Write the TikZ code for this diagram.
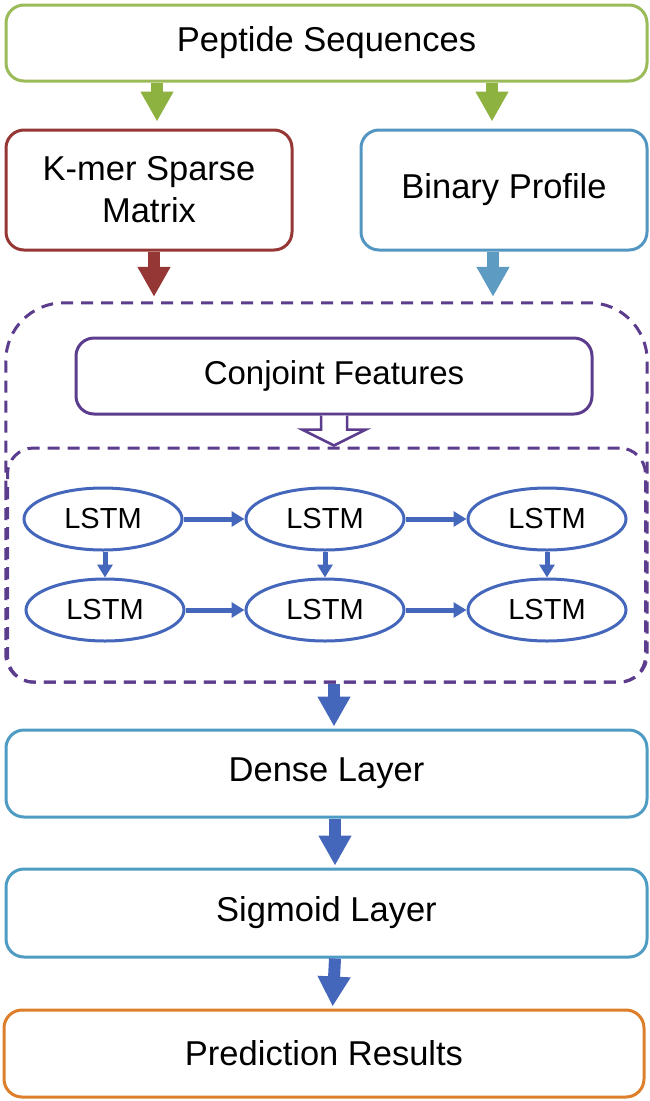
\documentclass[tikz,border=0pt]{standalone}
\usepackage{fontspec}
\setmainfont{Liberation Sans}
\usetikzlibrary{arrows.meta,calc,shapes.geometric}
\definecolor{cgreen}{HTML}{9BBB59}
\definecolor{cgreenA}{HTML}{8DB23F}
\definecolor{cred}{HTML}{953735}
\definecolor{cblue}{HTML}{5496C2}
\definecolor{cblueA}{HTML}{5E9BC3}
\definecolor{cpurple}{HTML}{5C3C8C}
\definecolor{clstm}{HTML}{4466BB}
\definecolor{cteal}{HTML}{4E9CC3}
\definecolor{corange}{HTML}{DD7F2A}
\tikzset{
  box/.style={draw, line width=3pt, rounded corners=18pt, fill=white, inner sep=0pt, align=center,
    font=\fontsize{34.5}{42}\selectfont},
  dline/.style={draw=cpurple, line width=3pt, dash pattern=on 12pt off 8pt},
  dbox/.style={dline, inner sep=0pt},
  lstm/.style={ellipse, draw=clstm, line width=3pt, fill=white, inner sep=0pt,
    minimum width=158pt, minimum height=62pt, font=\fontsize{29}{34}\selectfont},
  bigarrow/.style={line width=12pt, -{Triangle[width=31pt,length=30pt]}},
  smallarrow/.style={draw=clstm, line width=5pt, -{Triangle[width=15pt,length=13pt]}},
}
\begin{document}
\begin{tikzpicture}[x=1pt,y=-1pt]
\useasboundingbox (0,0) rectangle (650,1101);
% boxes
\node[box, draw=cgreen, minimum width=641pt, minimum height=76pt] (pep) at (326.5,43) {Peptide Sequences};
\node[box, draw=cred, minimum width=286pt, minimum height=120pt] (kmer) at (149,190) {K-mer Sparse\\Matrix};
\node[box, draw=cblue, minimum width=286pt, minimum height=120pt] (bin) at (504,190) {Binary Profile};
% outer dashed group (large top corners, smaller bottom corners)
\node[inner sep=0pt, minimum width=641pt, minimum height=379pt] (outer) at (326.5,492.5) {};
\draw[dline] (outer.west) [rounded corners=58pt] -- (outer.north west) -- (outer.north east) -- (outer.east)
  [rounded corners=28pt] -- (outer.south east) -- (outer.south west) -- (outer.west);
\node[dbox, rounded corners=26pt, minimum width=638pt, minimum height=234pt] (inner) at (326.5,565) {};
\node[box, draw=cpurple, minimum width=516pt, minimum height=76pt, font=\fontsize{33}{40}\selectfont] (conj) at (334,376) {Conjoint Features};
\node[box, draw=cteal, minimum width=641pt, minimum height=87pt] (dense) at (326.5,773.5) {Dense Layer};
\node[box, draw=cteal, minimum width=641pt, minimum height=88pt] (sig) at (326.5,913) {Sigmoid Layer};
\node[box, draw=corange, minimum width=640pt, minimum height=87pt] (pred) at (324,1053.5) {Prediction Results};
% LSTM cells
\node[lstm] (l11) at (103,519) {LSTM};
\node[lstm] (l12) at (325,519) {LSTM};
\node[lstm] (l13) at (547,519) {LSTM};
\node[lstm] (l21) at (105,610) {LSTM};
\node[lstm] (l22) at (325,610) {LSTM};
\node[lstm] (l23) at (547,610) {LSTM};
% big arrows
\draw[bigarrow, cgreenA, shorten >=7pt] ($(pep.south -| kmer.north)+(8,0)$) -- ($(kmer.north)+(8,0)$);
\draw[bigarrow, cgreenA, shorten >=7pt] ($(pep.south -| bin.north)+(-12,0)$) -- ($(bin.north)+(-12,0)$);
\draw[bigarrow, cred, shorten >=6pt] ($(kmer.south)+(5,0)$) -- ($(outer.north -| kmer.south)+(5,0)$);
\draw[bigarrow, cblueA, shorten >=6pt] ($(bin.south)+(-11,0)$) -- ($(outer.north -| bin.south)+(-11,0)$);
\draw[bigarrow, clstm, shorten >=2pt] ($(inner.south)+(7.5,0)$) -- ($(dense.north)+(7.5,0)$);
\draw[bigarrow, clstm, shorten >=2pt] ($(dense.south)+(8.5,0)$) -- ($(sig.north)+(8.5,0)$);
\draw[bigarrow, clstm, shorten >=2pt] ($(sig.south)+(8.5,0)$) -- ($(pred.north)+(8.5,0)$);
% hollow arrow
\draw[cpurple, line width=2.5pt, fill=white, line join=miter]
  ($(conj.south)+(-13,0)$) -- ++(0,14) -- ++(-19,0) -- ($(inner.north -| conj.south)+(0,-1)$)
  -- ($(conj.south)+(32,14)$) -- ++(-19,0) -- ($(conj.south)+(13,0)$);
% LSTM arrows
\draw[smallarrow] (l11.east) -- (l12.west);
\draw[smallarrow] (l12.east) -- (l13.west);
\draw[smallarrow] (l21.east) -- (l22.west);
\draw[smallarrow] (l22.east) -- (l23.west);
\draw[smallarrow] ($(l11.south)+(2,0)$) -- (l21.north);
\draw[smallarrow] (l12.south) -- (l22.north);
\draw[smallarrow] (l13.south) -- (l23.north);
\end{tikzpicture}
\end{document}
